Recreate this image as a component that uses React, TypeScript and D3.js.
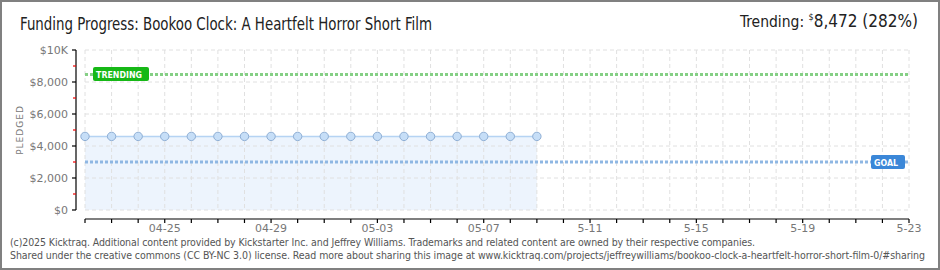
import React from "react";
import * as d3 from "d3";

const W = 940;
const H = 270;

const dayLabels = ["04-22","04-23","04-24","04-25","04-26","04-27","04-28","04-29","04-30","05-01","05-02","05-03","05-04","05-05","05-06","05-07","05-08","05-09"];
const pledged = [4600,4600,4600,4600,4600,4600,4600,4600,4600,4600,4600,4600,4600,4600,4600,4600,4600,4600];
const xTickDates = ["2025-04-25","2025-04-29","2025-05-03","2025-05-07","2025-05-11","2025-05-15","2025-05-19","2025-05-23"];
const xTickLabels = ["04-25","04-29","05-03","05-07","5-11","5-15","5-19","5-23"];
const yTicks = [0, 2000, 4000, 6000, 8000, 10000];
const yTickLabels = ["$0", "$2,000", "$4,000", "$6,000", "$8,000", "$10K"];
const yMinor = [1000, 3000, 5000, 7000, 9000];
const goal = 3000;
const trending = 8472;
const startDate = "2025-04-22";
const endDate = "2025-05-23";

const parse = d3.timeParse("%Y-%m-%d");

export default function App() {
  const x = d3.scaleTime().domain([parse(startDate)!, parse(endDate)!]).range([85, 909]);
  const y = d3.scaleLinear().domain([0, 10000]).range([210, 50]);
  const pts = pledged.map((v, i) => ({ d: parse("2025-" + dayLabels[i])!, v }));
  const allDays = d3.timeDay.range(parse(startDate)!, d3.timeDay.offset(parse(endDate)!, 1));
  const line = d3.line<any>().x((p) => x(p.d)).y((p) => y(p.v));
  const area = d3.area<any>().x((p) => x(p.d)).y0(y(0)).y1((p) => y(p.v));
  const tickFont = "'DejaVu Sans', sans-serif";
  const narrow = "'Liberation Sans Narrow', 'DejaVu Sans Condensed', 'Liberation Sans', sans-serif";
  const x0 = 85, x1 = 909;
  return (
    <svg width={W} height={H} style={{ position: "absolute", left: 0, top: 0 }} xmlns="http://www.w3.org/2000/svg">
      <rect x={0} y={0} width={W} height={H} fill="#fff" />
      <rect x={1} y={1} width={W - 2} height={H - 2} fill="none" stroke="#808080" strokeWidth={2} />
      <text x={20} y={30} fontFamily={narrow} fontSize={17} fill="#222" textLength={412} lengthAdjust="spacingAndGlyphs">Funding Progress: Bookoo Clock: A Heartfelt Horror Short Film</text>
      <text x={918} y={27} textAnchor="end" fontFamily={narrow} fontSize={17} fill="#222">
        <tspan fontSize={15.5}>Trending: </tspan>
        <tspan fontSize={9} dy={-7}>$</tspan>
        <tspan dy={7}>8,472 (282%)</tspan>
      </text>

      <path d={area(pts)!} fill="#edf4fd" />

      {allDays.map((d, i) => (
        <line key={"gv" + i} x1={x(d)} x2={x(d)} y1={50} y2={210} stroke="#e0e0e0" strokeDasharray="4,3" />
      ))}
      {yTicks.map((t) => (
        <line key={"gh" + t} x1={x0} x2={x1} y1={y(t)} y2={y(t)} stroke="#e0e0e0" strokeDasharray="4,3" />
      ))}

      <path d={line(pts)!} fill="none" stroke="#b5d3f3" strokeWidth={1.5} />

      <line x1={x0} x2={x1} y1={y(goal)} y2={y(goal)} stroke="#8fb7e3" strokeWidth={3} strokeDasharray="3,2" />
      <line x1={x0} x2={x1} y1={y(trending)} y2={y(trending)} stroke="#85cf85" strokeWidth={3} strokeDasharray="3,2" />

      {pts.map((p, i) => (
        <circle key={"p" + i} cx={x(p.d)} cy={y(p.v)} r={4.2} fill="#c6def7" stroke="#8eaed4" strokeWidth={1} />
      ))}

      <rect x={93} y={67} width={56} height={14} rx={2} fill="#16b816" />
      <text x={96} y={78} fontFamily={tickFont} fontSize={9} fontWeight="bold" fill="#fff" textLength={46} lengthAdjust="spacingAndGlyphs">TRENDING</text>
      <rect x={871} y={155} width={34} height={14} rx={2} fill="#3b87d8" />
      <text x={874} y={166} fontFamily={tickFont} fontSize={9} fontWeight="bold" fill="#fff" textLength={24} lengthAdjust="spacingAndGlyphs">GOAL</text>

      <line x1={76} x2={76} y1={50} y2={210} stroke="#000" strokeWidth={1.2} />
      {yTicks.map((t, i) => (
        <g key={"yt" + t}>
          <line x1={72} x2={76} y1={y(t)} y2={y(t)} stroke="#000" strokeWidth={1.2} />
          <text x={68} y={y(t) + 4} textAnchor="end" fontFamily={tickFont} fontSize={11} fill="#777">{yTickLabels[i]}</text>
        </g>
      ))}
      {yMinor.map((t) => (
        <line key={"ym" + t} x1={73} x2={76} y1={y(t)} y2={y(t)} stroke="#e00" strokeWidth={1.2} />
      ))}
      <text transform={`translate(23,130) rotate(-90)`} textAnchor="middle" fontFamily={tickFont} fontSize={9} fill="#777" letterSpacing={1}>PLEDGED</text>

      <line x1={x0} x2={x1} y1={219} y2={219} stroke="#000" strokeWidth={1.2} />
      {allDays.map((d, i) => (
        <line key={"xt" + i} x1={x(d)} x2={x(d)} y1={219} y2={223} stroke="#000" strokeWidth={1.2} />
      ))}
      {xTickDates.map((s, i) => (
        <text key={"xl" + s} x={x(parse(s)!)} y={232} textAnchor="middle" fontFamily={tickFont} fontSize={11} fill="#777">{xTickLabels[i]}</text>
      ))}

      <text x={10} y={246} fontFamily={narrow} fontSize={10.5} fill="#555" textLength={745} lengthAdjust="spacing">(c)2025 Kicktraq. Additional content provided by Kickstarter Inc. and Jeffrey Williams. Trademarks and related content are owned by their respective companies.</text>
      <text x={10} y={259} fontFamily={narrow} fontSize={10.5} fill="#555" textLength={915} lengthAdjust="spacing">Shared under the creative commons (CC BY-NC 3.0) license. Read more about sharing this image at www.kicktraq.com/projects/jeffreywilliams/bookoo-clock-a-heartfelt-horror-short-film-0/#sharing</text>
    </svg>
  );
}
